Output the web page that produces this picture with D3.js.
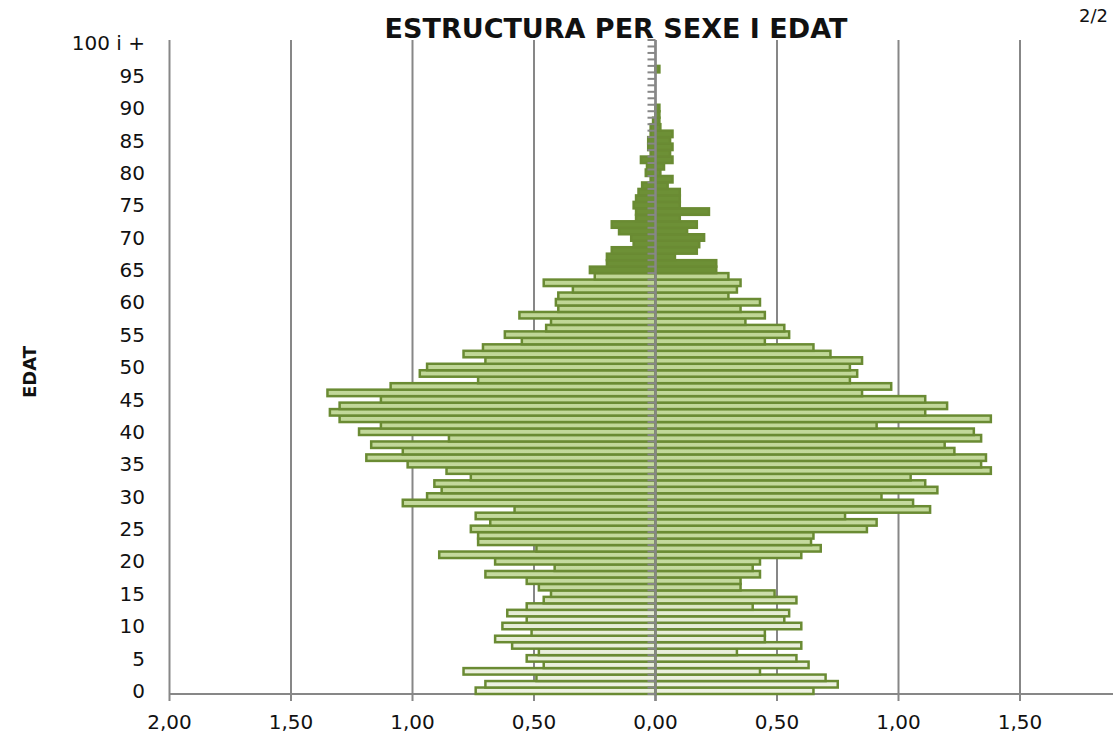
<!DOCTYPE html>
<html>
<head>
<meta charset="utf-8">
<script src="https://cdn.jsdelivr.net/npm/d3@7/dist/d3.min.js"></script>
<style>
  body { margin: 0; background: #fff; }
  text { font-family: "DejaVu Sans", Verdana, sans-serif; fill: #111; }
</style>
</head>
<body>
<script>
// edat 0 .. 100 (100 = "100 i +")
var edats = d3.range(0, 101);

// % de població per edat, costat esquerre
var homes = [
  0.74, 0.70, 0.49, 0.79, 0.46, 0.53, 0.48, 0.59, 0.66, 0.51,
  0.63, 0.53, 0.61, 0.53, 0.46, 0.43, 0.48, 0.53, 0.70, 0.415,
  0.66, 0.89, 0.49, 0.73, 0.73, 0.76, 0.68, 0.74, 0.58, 1.04,
  0.94, 0.88, 0.91, 0.76, 0.86, 1.02, 1.19, 1.04, 1.17, 0.85,
  1.22, 1.13, 1.30, 1.34, 1.30, 1.13, 1.35, 1.09, 0.73, 0.97,
  0.94, 0.70, 0.79, 0.71, 0.55, 0.62, 0.45, 0.43, 0.56, 0.40,
  0.41, 0.40, 0.34, 0.46, 0.25, 0.27, 0.20, 0.20, 0.18, 0.09,
  0.10, 0.15, 0.18, 0.08, 0.08, 0.09, 0.08, 0.07, 0.055, 0.02,
  0.04, 0.035, 0.06, 0.02, 0.03, 0.03, 0.02, 0.02, 0.01, 0,
  0, 0, 0, 0, 0, 0, 0, 0, 0, 0,
  0
];

// costat dret
var dones = [
  0.65, 0.75, 0.70, 0.43, 0.63, 0.58, 0.335, 0.60, 0.45, 0.45,
  0.60, 0.53, 0.55, 0.40, 0.58, 0.49, 0.35, 0.35, 0.43, 0.40,
  0.43, 0.60, 0.68, 0.64, 0.65, 0.87, 0.91, 0.78, 1.13, 1.06,
  0.93, 1.16, 1.11, 1.05, 1.38, 1.34, 1.36, 1.23, 1.19, 1.34,
  1.31, 0.91, 1.38, 1.11, 1.20, 1.11, 0.85, 0.97, 0.80, 0.83,
  0.80, 0.85, 0.72, 0.65, 0.45, 0.55, 0.53, 0.37, 0.45, 0.35,
  0.43, 0.30, 0.335, 0.35, 0.30, 0.25, 0.25, 0.08, 0.17, 0.18,
  0.20, 0.13, 0.17, 0.10, 0.22, 0.10, 0.10, 0.10, 0.05, 0.07,
  0.02, 0.035, 0.07, 0.06, 0.07, 0.06, 0.07, 0.02, 0.016, 0.016,
  0.016, 0, 0, 0, 0, 0, 0.016, 0, 0, 0,
  0
];

var xTicks = [-2, -1.5, -1, -0.5, 0, 0.5, 1, 1.5, 2];
var yTicks = d3.range(0, 101, 5);

var width = 1113, height = 740;
var plotTop = 40, plotBottom = 694;

var svg = d3.select("body").append("svg")
  .attr("width", width)
  .attr("height", height);

var x = d3.scaleLinear().domain([-2, 2]).range([169.5, 1141.5]);
var y = d3.scaleBand().domain(edats).range([plotBottom, plotTop]).padding(0);
var bw = y.bandwidth();

var cat = d3.formatLocale({decimal: ",", thousands: ".", grouping: [3], currency: ["", " €"]});
var fmt = cat.format(".2f");

var grey = "#878787",
    dark = "#6d9036",
    edge = "#6a8b33";

// degradat dels grups joves
var defs = svg.append("defs");
var y0 = y(0) + bw, y64 = y(64);
function off(a) { return (y0 - (y(a) + bw / 2)) / (y0 - y64); }
var grad = defs.append("linearGradient")
  .attr("id", "clar")
  .attr("gradientUnits", "userSpaceOnUse")
  .attr("x1", 0).attr("x2", 0)
  .attr("y1", y0).attr("y2", y64);
grad.append("stop").attr("offset", 0).attr("stop-color", "#eef2e3");
grad.append("stop").attr("offset", off(12)).attr("stop-color", "#e5ecd5");
grad.append("stop").attr("offset", off(16)).attr("stop-color", "#c5da9f");
grad.append("stop").attr("offset", 1).attr("stop-color", "#bfd695");

// gridlines
svg.append("g").selectAll("line")
  .data(xTicks)
  .enter().append("line")
  .attr("x1", function(d) { return x(d); })
  .attr("x2", function(d) { return x(d); })
  .attr("y1", plotTop)
  .attr("y2", plotBottom + 7)
  .attr("stroke", grey)
  .attr("stroke-width", 2);

svg.append("line")
  .attr("x1", x(-2)).attr("x2", width)
  .attr("y1", plotBottom).attr("y2", plotBottom)
  .attr("stroke", grey).attr("stroke-width", 2);

function fillOf(a) { return a >= 65 ? dark : "url(#clar)"; }

var bars = svg.append("g");

bars.selectAll(".esq")
  .data(edats.filter(function(a) { return homes[a] > 0; }))
  .enter().append("rect")
  .attr("class", "esq")
  .attr("x", function(a) { return x(-homes[a]); })
  .attr("y", function(a) { return y(a); })
  .attr("width", function(a) { return x(0) - x(-homes[a]); })
  .attr("height", bw)
  .attr("fill", fillOf)
  .attr("stroke", edge)
  .attr("stroke-width", 2.5);

bars.selectAll(".dre")
  .data(edats.filter(function(a) { return dones[a] > 0; }))
  .enter().append("rect")
  .attr("class", "dre")
  .attr("x", x(0))
  .attr("y", function(a) { return y(a); })
  .attr("width", function(a) { return x(dones[a]) - x(0); })
  .attr("height", bw)
  .attr("fill", fillOf)
  .attr("stroke", edge)
  .attr("stroke-width", 2.5);

// eix central amb marques per edat
var axis0 = svg.append("g");
axis0.selectAll("line.tk")
  .data(d3.range(0, 102))
  .enter().append("line")
  .attr("class", "tk")
  .attr("x1", x(0) - 8).attr("x2", x(0))
  .attr("y1", function(i) { return plotBottom - i * bw; })
  .attr("y2", function(i) { return plotBottom - i * bw; })
  .attr("stroke", grey)
  .attr("stroke-width", 2);
axis0.append("line")
  .attr("x1", x(0)).attr("x2", x(0))
  .attr("y1", plotTop).attr("y2", plotBottom + 7)
  .attr("stroke", grey)
  .attr("stroke-width", 2.5);

// etiquetes d'edat
svg.append("g").selectAll("text")
  .data(yTicks)
  .enter().append("text")
  .attr("x", 145)
  .attr("y", function(a) { return y(a) + bw / 2; })
  .attr("dy", "0.36em")
  .attr("text-anchor", "end")
  .style("font-size", "20px")
  .text(function(a) { return a === 100 ? "100 i +" : a; });

// etiquetes de l'eix x (la de la dreta queda fora del marc)
svg.append("g").selectAll("text")
  .data(xTicks.filter(function(d) { return x(d) + 25 < width; }))
  .enter().append("text")
  .attr("x", function(d) { return x(d); })
  .attr("y", 729)
  .attr("text-anchor", "middle")
  .style("font-size", "20px")
  .text(function(d) { return fmt(Math.abs(d)); });

svg.append("text")
  .attr("x", 616)
  .attr("y", 38)
  .attr("text-anchor", "middle")
  .style("font-size", "27px")
  .style("font-weight", "bold")
  .text("ESTRUCTURA PER SEXE I EDAT");

svg.append("text")
  .attr("transform", "translate(36,372) rotate(-90)")
  .attr("text-anchor", "middle")
  .style("font-size", "18px")
  .style("font-weight", "bold")
  .text("EDAT");

svg.append("text")
  .attr("x", 1108)
  .attr("y", 22)
  .attr("text-anchor", "end")
  .style("font-size", "18px")
  .text("2/2");
</script>
</body>
</html>
